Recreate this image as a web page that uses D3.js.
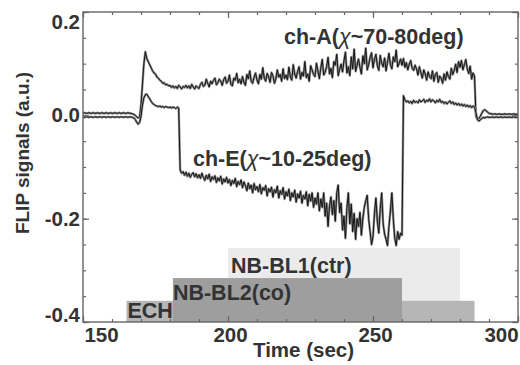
<!DOCTYPE html>
<html>
<head>
<meta charset="utf-8">
<script src="https://cdn.jsdelivr.net/npm/d3@7"></script>
<style>
  body { margin: 0; background: #fff; }
  text { font-family: "Liberation Sans", Arial, sans-serif; font-weight: bold; fill: #333; }
</style>
</head>
<body>
<div id="chart-container"></div>
<script>
/*globals d3 */

// sampling of both traces: t = 150, 150.5, ... 300 s
var tStart = 150;
var tStep = 0.5;

// ch-A (chi ~ 70-80 deg)
var chA = [
    .004,.005,.004,.004,.005,.004,.004,.005,.004,.004,
    .005,.004,.004,.005,.004,.004,.005,.004,.004,.005,
    .004,.004,.005,.004,.004,.005,.004,.004,.005,.004,
    .004,.005,.004,.004,.003,.002,.000,-.003,-.005,-.004,
    .020,.060,.100,.123,.110,.104,.098,.092,.086,.082,
    .080,.074,.072,.068,.066,.062,.063,.059,.060,.057,
    .058,.054,.057,.053,.056,.052,.058,.055,.051,.056,
    .054,.058,.053,.057,.052,.060,.055,.051,.057,.054,
    .052,.060,.064,.056,.058,.070,.062,.055,.066,.061,
    .068,.072,.059,.063,.070,.066,.058,.069,.074,.062,
    .066,.078,.060,.057,.072,.068,.081,.063,.070,.061,
    .075,.064,.058,.079,.071,.086,.066,.062,.074,.082,
    .068,.061,.079,.070,.092,.072,.066,.081,.075,.064,
    .083,.077,.062,.070,.088,.074,.079,.066,.090,.071,
    .078,.069,.093,.074,.068,.098,.080,.072,.085,.094,
    .070,.083,.076,.104,.073,.080,.066,.096,.088,.079,
    .075,.101,.086,.071,.092,.108,.078,.083,.094,.112,
    .080,.091,.073,.104,.097,.118,.077,.089,.099,.084,
    .106,.122,.082,.094,.077,.113,.090,.128,.085,.097,
    .109,.093,.080,.115,.100,.130,.088,.098,.112,.121,
    .092,.108,.118,.096,.087,.116,.101,.094,.111,.086,
    .103,.120,.098,.090,.113,.104,.126,.094,.100,.109,
    .097,.110,.093,.102,.088,.099,.106,.091,.087,.097,
    .090,.078,.094,.083,.072,.088,.080,.068,.084,.075,
    .071,.086,.066,.079,.083,.064,.076,.072,.062,.080,
    .068,.084,.075,.070,.091,.079,.087,.099,.083,.104,
    .093,.106,.088,.098,.108,.090,.081,.095,.070,.082,
    .076,-.002,-.008,-.006,-.002,.004,.009,.011,.009,.006,
    .004,.003,.003,.002,.003,.002,.002,.003,.002,.002,
    .002,.003,.002,.002,.003,.002,.002,.003,.002,.002,.002
];

// ch-E (chi ~ 10-25 deg)
var chE = [
    -.003,-.004,-.003,-.003,-.004,-.003,-.003,-.004,-.003,-.003,
    -.004,-.003,-.003,-.004,-.003,-.003,-.004,-.003,-.003,-.004,
    -.003,-.003,-.004,-.003,-.003,-.004,-.003,-.003,-.004,-.003,
    -.003,-.004,-.003,-.003,-.004,-.005,-.008,-.013,-.017,-.014,
    -.002,.020,.034,.040,.041,.036,.032,.027,.023,.021,
    .019,.018,.017,.018,.016,.017,.015,.017,.016,.015,
    .016,.014,.016,.015,.013,.016,.014,-.106,-.112,-.109,
    -.116,-.110,-.118,-.112,-.120,-.114,-.111,-.119,-.113,-.121,
    -.115,-.122,-.112,-.120,-.126,-.116,-.123,-.114,-.128,-.119,
    -.124,-.117,-.130,-.121,-.127,-.118,-.133,-.123,-.129,-.120,
    -.131,-.124,-.136,-.126,-.132,-.122,-.138,-.128,-.134,-.125,
    -.140,-.129,-.136,-.146,-.131,-.142,-.135,-.150,-.132,-.144,
    -.138,-.148,-.134,-.152,-.140,-.145,-.136,-.156,-.142,-.148,
    -.139,-.158,-.144,-.150,-.137,-.160,-.146,-.153,-.140,-.162,
    -.148,-.156,-.143,-.165,-.150,-.158,-.145,-.168,-.152,-.160,
    -.147,-.170,-.155,-.162,-.148,-.175,-.153,-.166,-.150,-.178,
    -.160,-.172,-.150,-.185,-.162,-.178,-.150,-.195,-.170,-.215,
    -.175,-.158,-.192,-.165,-.205,-.150,-.135,-.188,-.170,-.222,
    -.195,-.238,-.180,-.150,-.210,-.172,-.225,-.190,-.240,-.200,
    -.215,-.188,-.232,-.200,-.178,-.165,-.155,-.200,-.225,-.250,
    -.235,-.190,-.160,-.205,-.228,-.180,-.150,-.210,-.230,-.240,
    -.252,-.215,-.185,-.150,-.200,-.238,-.252,-.225,-.240,-.228,
    -.232,.038,.030,.026,.028,.024,.027,.023,.029,.025,
    .027,.024,.030,.026,.028,.031,.025,.029,.027,.032,
    .026,.030,.028,.024,.029,.026,.031,.025,.027,.023,
    .026,.022,.025,.028,.023,.026,.021,.024,.020,.023,
    .019,.022,.018,.021,.017,.020,.016,.019,.015,.018,
    .016,.005,-.008,-.011,-.009,-.006,-.004,-.005,-.004,-.003,
    -.004,-.004,-.003,-.004,-.004,-.003,-.004,-.004,-.003,-.004,
    -.004,-.003,-.004,-.004,-.003,-.004,-.004,-.003,-.004,-.004,-.004
];

// heating periods shown as shaded bars (drawn back to front)
var barNames = ['NB-BL1(ctr)', 'ECH', 'NB-BL2(co)'];
var barStart = [200, 165, 181];
var barEnd = [280, 285, 260];
var barTop = [-0.257, -0.359, -0.315];

var xMajor = [150, 200, 250, 300];
var yMajor = [0.2, 0.0, -0.2, -0.4];

(function () {
    'use strict';

    var width = 520;
    var height = 365;
    var left = 83, right = 518, top = 12, bottom = 322;

    var x = d3.scaleLinear().domain([150, 300]).range([left, right]);
    var y = d3.scaleLinear().domain([-0.4, 0.2]).range([bottom, top]);

    var svg = d3.select('#chart-container')
        .append('svg')
        .attr('width', width)
        .attr('height', height);

    // bars
    var barFill = ['#ebebeb', '#b6b6b6', '#9e9e9e'];
    var labelDx = [3, 1, 0];
    var labelDy = [25, 17, 22];
    var bars = svg.append('g').attr('class', 'bars');
    barNames.forEach(function (name, i) {
        bars.append('rect')
            .attr('x', x(barStart[i]))
            .attr('y', y(barTop[i]))
            .attr('width', x(barEnd[i]) - x(barStart[i]))
            .attr('height', y(-0.4) - y(barTop[i]))
            .style('fill', barFill[i]);
    });
    barNames.forEach(function (name, i) {
        bars.append('text')
            .attr('x', x(barStart[i]) + labelDx[i])
            .attr('y', y(barTop[i]) + labelDy[i])
            .style('font-size', '21.5px')
            .text(name);
    });

    // traces
    var line = d3.line()
        .x(function (d, i) { return x(tStart + i * tStep); })
        .y(function (d) { return y(d); });

    [chA, chE].forEach(function (series) {
        svg.append('path')
            .attr('d', line(series))
            .style('fill', 'none')
            .style('stroke', '#8c8c8c')
            .style('stroke-width', 2.4)
            .style('stroke-linejoin', 'round');
        svg.append('path')
            .attr('d', line(series))
            .style('fill', 'none')
            .style('stroke', '#151515')
            .style('stroke-width', 1)
            .style('stroke-linejoin', 'round');
    });

    // axes: minor + major ticks on all four sides, pointing inward
    var xMinor = d3.range(150, 301, 10);
    var yMinor = d3.range(-0.4, 0.2001, 0.05);

    function addAxis(axis, tx, ty) {
        return svg.append('g')
            .attr('transform', 'translate(' + tx + ',' + ty + ')')
            .call(axis)
            .call(function (g) { g.select('.domain').remove(); });
    }

    var tickStyle = function (g) {
        g.selectAll('line').style('stroke', '#666').style('stroke-width', 1.2);
    };

    addAxis(d3.axisBottom(x).tickValues(xMinor).tickSize(-3).tickFormat(''), 0, bottom).call(tickStyle);
    addAxis(d3.axisTop(x).tickValues(xMinor).tickSize(-3).tickFormat(''), 0, top).call(tickStyle);
    addAxis(d3.axisTop(x).tickValues(xMajor).tickSize(-6).tickFormat(''), 0, top).call(tickStyle);
    addAxis(d3.axisLeft(y).tickValues(yMinor).tickSize(-3).tickFormat(''), left, 0).call(tickStyle);
    addAxis(d3.axisRight(y).tickValues(yMinor).tickSize(-3).tickFormat(''), right, 0).call(tickStyle);
    addAxis(d3.axisRight(y).tickValues(yMajor).tickSize(-6).tickFormat(''), right, 0).call(tickStyle);

    var xAxis = addAxis(d3.axisBottom(x).tickValues(xMajor).tickSize(-6).tickPadding(5).tickFormat(d3.format('d')), 0, bottom);
    xAxis.call(tickStyle);
    xAxis.selectAll('text')
        .style('font-size', '20.5px')
        .attr('fill', null)
        .attr('dx', function (d) { return d === 150 ? 18 : d === 300 ? -17 : 2; });

    var yAxis = addAxis(d3.axisLeft(y).tickValues(yMajor).tickSize(-6).tickPadding(3).tickFormat(d3.format('.1f')), left, 0);
    yAxis.call(tickStyle);
    yAxis.selectAll('text')
        .style('font-size', '20.5px')
        .attr('fill', null)
        .attr('y', function (d) { return d > 0.1 ? 10 : d < -0.3 ? -7 : 0; })
        .text(function (d) { return d3.format('.1f')(d).replace('\u2212', '-'); });
    svg.selectAll('.tick text').attr('font-family', null).attr('font-size', null);

    // frame
    svg.append('rect')
        .attr('x', left)
        .attr('y', top)
        .attr('width', right - left)
        .attr('height', bottom - top)
        .style('fill', 'none')
        .style('stroke', '#666')
        .style('stroke-width', 1.4);

    // annotations
    function chLabel(tx, ty, pre, post) {
        var t = svg.append('text')
            .attr('x', tx)
            .attr('y', ty)
            .style('font-size', '21.5px');
        t.append('tspan').text(pre);
        t.append('tspan').style('font-weight', 'normal').style('font-style', 'italic').text('\u03c7');
        t.append('tspan').text(post);
    }
    chLabel(284, 44, 'ch-A(', '~70-80deg)');
    chLabel(193, 166, 'ch-E(', '~10-25deg)');

    // axis titles
    svg.append('text')
        .attr('x', x(225) + 3)
        .attr('y', 357)
        .attr('text-anchor', 'middle')
        .style('font-size', '20.5px')
        .text('Time (sec)');

    svg.append('text')
        .attr('transform', 'translate(29,153) rotate(-90)')
        .attr('text-anchor', 'middle')
        .style('font-size', '19px')
        .text('FLIP signals (a.u.)');
}());
</script>
</body>
</html>
